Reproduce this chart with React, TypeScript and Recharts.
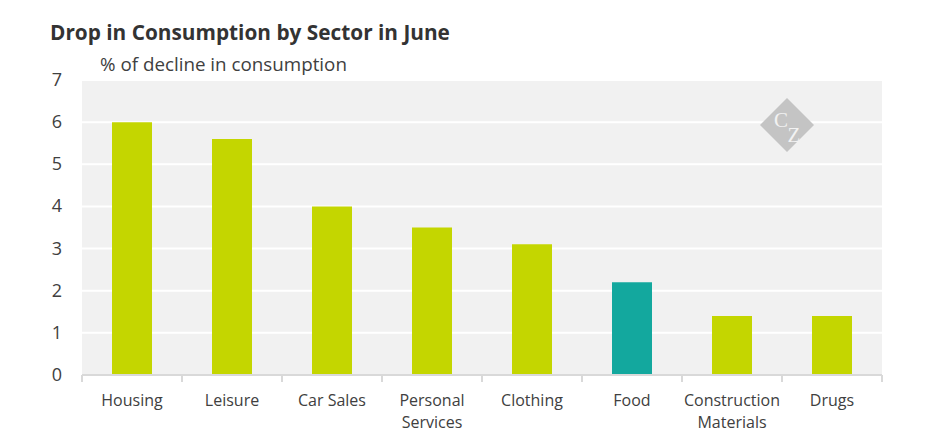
import React from 'react';
import { BarChart, Bar, XAxis, YAxis, CartesianGrid, Cell } from 'recharts';

const sectors = [
  'Housing',
  'Leisure',
  'Car Sales',
  'Personal Services',
  'Clothing',
  'Food',
  'Construction Materials',
  'Drugs',
];
const declines = [6.0, 5.6, 4.0, 3.5, 3.1, 2.2, 1.4, 1.4];
const highlighted = ['Food'];
const yTicks = [0, 1, 2, 3, 4, 5, 6, 7];

const data = sectors.map((name, i) => ({ name, value: declines[i] }));

const FONT = '"Open Sans", sans-serif';
const TEXT = '#404040';

// category label + boundary tick marks between categories
function SectorTick(props: any) {
  const { x, y, payload, index, visibleTicksCount } = props;
  const half = payload && payload.offset ? payload.offset : 50;
  const words = String(payload.value).split(' ');
  const lines =
    words.length > 1 && payload.value.length > 11
      ? [words.slice(0, -1).join(' '), words[words.length - 1]]
      : [payload.value];
  const top = y - 8;
  return (
    <g>
      <line x1={x - half} x2={x - half} y1={top} y2={top + 7} stroke="#d9d9d9" strokeWidth={2} />
      {index === visibleTicksCount - 1 && (
        <line x1={x + half} x2={x + half} y1={top} y2={top + 7} stroke="#d9d9d9" strokeWidth={2} />
      )}
      <text x={x} y={top + 31} textAnchor="middle" fontSize={16} fill={TEXT} fontFamily={FONT}>
        {lines.map((l: string, i: number) => (
          <tspan key={i} x={x} dy={i === 0 ? 0 : 22}>
            {l}
          </tspan>
        ))}
      </text>
    </g>
  );
}

function ValueTick(props: any) {
  const { y, payload } = props;
  return (
    <text x={57} y={y + 6} textAnchor="middle" fontSize={18} fill={TEXT} fontFamily={FONT}>
      {payload.value}
    </text>
  );
}

export default function App() {
  return (
    <div style={{ position: 'relative', width: 945, height: 443, margin: -8, background: '#fff', fontFamily: FONT }}>
      <div style={{ position: 'absolute', left: 50, top: 18, fontSize: 20.8, fontWeight: 700, color: '#333' }}>
        Drop in Consumption by Sector in June
      </div>
      <div style={{ position: 'absolute', left: 100, top: 51, fontSize: 18.8, color: TEXT }}>
        % of decline in consumption
      </div>
      <div style={{ position: 'absolute', left: 0, top: 0 }}>
        <BarChart
          width={945}
          height={443}
          data={data}
          margin={{ top: 80, right: 63, bottom: 0, left: 52 }}
          barCategoryGap={30}
        >
          <CartesianGrid vertical={false} stroke="#ffffff" strokeWidth={2} fill="#f1f1f1" />
          <XAxis
            dataKey="name"
            height={68}
            interval={0}
            axisLine={{ stroke: '#d9d9d9', strokeWidth: 2 }}
            tickLine={false}
            tick={<SectorTick />}
          />
          <YAxis
            width={30}
            domain={[0, 7]}
            ticks={yTicks}
            axisLine={false}
            tickLine={false}
            tick={<ValueTick />}
          />
          <Bar dataKey="value" barSize={40} isAnimationActive={false}>
            {data.map((d) => (
              <Cell key={d.name} fill={highlighted.includes(d.name) ? '#13a89e' : '#c4d600'} />
            ))}
          </Bar>
        </BarChart>
      </div>
      <svg style={{ position: 'absolute', left: 759, top: 97 }} width={56} height={56}>
        <polygon points="28,1 55,28 28,55 1,28" fill="#c4c4c4" />
        <text x={22} y={30} textAnchor="middle" fontSize={21} fill="#f2f2f2" fontFamily="'Liberation Serif', serif">
          C
        </text>
        <text x={35} y={45} textAnchor="middle" fontSize={21} fill="#f2f2f2" fontFamily="'Liberation Serif', serif">
          Z
        </text>
      </svg>
    </div>
  );
}
